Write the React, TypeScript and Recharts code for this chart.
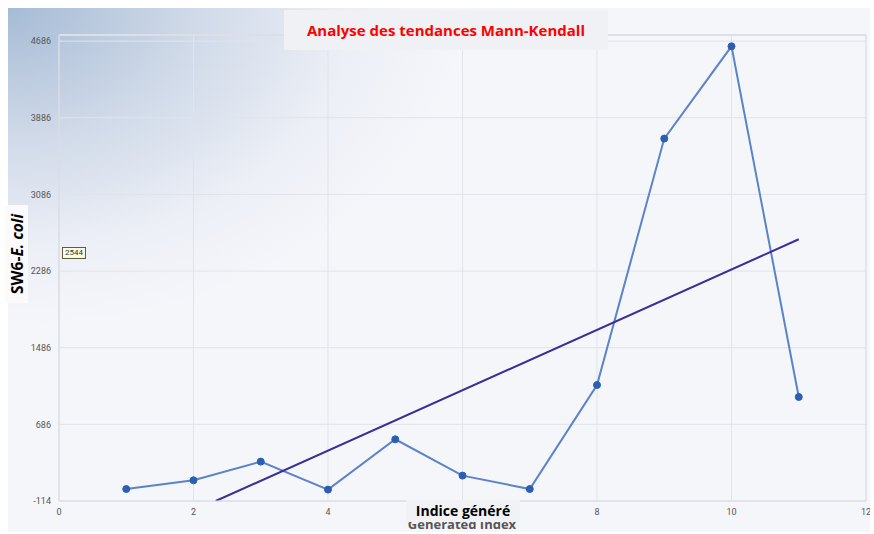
import React from "react";
import {
  LineChart,
  Line,
  CartesianGrid,
  XAxis,
  YAxis,
  ReferenceLine
} from "recharts";

// values
const indexes = [1, 2, 3, 4, 5, 6, 7, 8, 9, 10, 11];
const ecoli = [11, 102, 297, 5, 530, 151, 11, 1097, 3669, 4632, 972];

const trendX = [2.33, 11];
const trendY = [-114, 2618];

const xTicks = [0, 2, 4, 6, 8, 10, 12];
const yTicks = [-114, 686, 1486, 2286, 3086, 3886, 4686];

const data = indexes.map((x, i) => ({ x, value: ecoli[i] }));
const trend = trendX.map((x, i) => ({ x, trend: trendY[i] }));

const tickStyle = { fontSize: 9, fill: "#555", fontFamily: "Roboto, sans-serif" };

export default function App() {
  return (
    <div
      style={{
        position: "fixed",
        left: 0,
        top: 0,
        width: 874,
        height: 534,
        overflow: "hidden",
        background: "#fff"
      }}
    >
      <div
        style={{
          position: "absolute",
          left: 8,
          top: 8,
          width: 862,
          height: 524,
          background:
            "radial-gradient(ellipse 460px 320px at 0 0, #a6bbd5 0%, #cfd9e8 40%, #eceff6 75%, #f5f6fa 100%)",
          fontFamily: "'Open Sans', sans-serif"
        }}
      >
        <LineChart
          width={862}
          height={524}
          data={data}
          margin={{ top: 27, right: 4, bottom: 11, left: 1 }}
          style={{ overflow: "visible" }}
        >
          <CartesianGrid stroke="#e1e3ea" />
          <XAxis
            type="number"
            dataKey="x"
            domain={[0, 12]}
            ticks={xTicks}
            interval={0}
            height={20}
            tickLine={false}
            axisLine={{ stroke: "#d6d9e2" }}
            tick={tickStyle}
          />
          <YAxis
            type="number"
            domain={[-114, 4750]}
            ticks={yTicks}
            interval={0}
            width={50}
            tickLine={false}
            axisLine={{ stroke: "#d6d9e2" }}
            tick={tickStyle}
            allowDataOverflow
          />
          <ReferenceLine y={4750} stroke="#dcdfe7" strokeWidth={2} />
          <ReferenceLine x={12} stroke="#dcdfe7" />
          <Line
            dataKey="value"
            type="linear"
            stroke="#5b83c9"
            strokeWidth={2}
            dot={{ r: 3.5, fill: "#2c5eb2", stroke: "#2c5eb2", strokeWidth: 1 }}
            isAnimationActive={false}
          />
          <Line
            data={trend}
            dataKey="trend"
            type="linear"
            stroke="#3a2d98"
            strokeWidth={2}
            dot={false}
            isAnimationActive={false}
          />
        </LineChart>

        {/* title */}
        <div
          style={{
            position: "absolute",
            left: 276,
            top: 2,
            width: 324,
            height: 40,
            background: "#f0f1f4",
            color: "#ff0000",
            fontWeight: 700,
            fontSize: 15,
            lineHeight: "40px",
            textAlign: "center"
          }}
        >
          Analyse des tendances Mann-Kendall
        </div>

        {/* y axis label */}
        <div
          style={{
            position: "absolute",
            left: -3,
            top: 197,
            width: 23,
            height: 98,
            background: "#fbfbfd",
            display: "flex",
            alignItems: "center",
            justifyContent: "center"
          }}
        >
          <div
            style={{
              writingMode: "vertical-rl",
              transform: "rotate(180deg)",
              whiteSpace: "nowrap",
              fontWeight: 700,
              fontSize: 15.5,
              lineHeight: "20px",
              color: "#000"
            }}
          >
            SW6-<i>E. coli</i>
          </div>
        </div>

        {/* value tag */}
        <div
          style={{
            position: "absolute",
            left: 54,
            top: 239,
            padding: "0 2px",
            height: 10,
            lineHeight: "10px",
            fontSize: 8,
            fontFamily: "Roboto, sans-serif",
            color: "#333",
            background: "#fbfbe4",
            border: "1px solid #5e5e3a"
          }}
        >
          2544
        </div>

        {/* x axis labels */}
        <div
          style={{
            position: "absolute",
            left: 354,
            top: 509,
            width: 200,
            textAlign: "center",
            fontSize: 13,
            lineHeight: "15px",
            fontWeight: 700,
            color: "#555"
          }}
        >
          Generated Index
        </div>
        <div
          style={{
            position: "absolute",
            left: 398,
            top: 492,
            width: 114,
            height: 22,
            lineHeight: "22px",
            background: "#f1f2f5",
            textAlign: "center",
            fontSize: 14,
            fontWeight: 700,
            color: "#000"
          }}
        >
          Indice généré
        </div>
      </div>
    </div>
  );
}
